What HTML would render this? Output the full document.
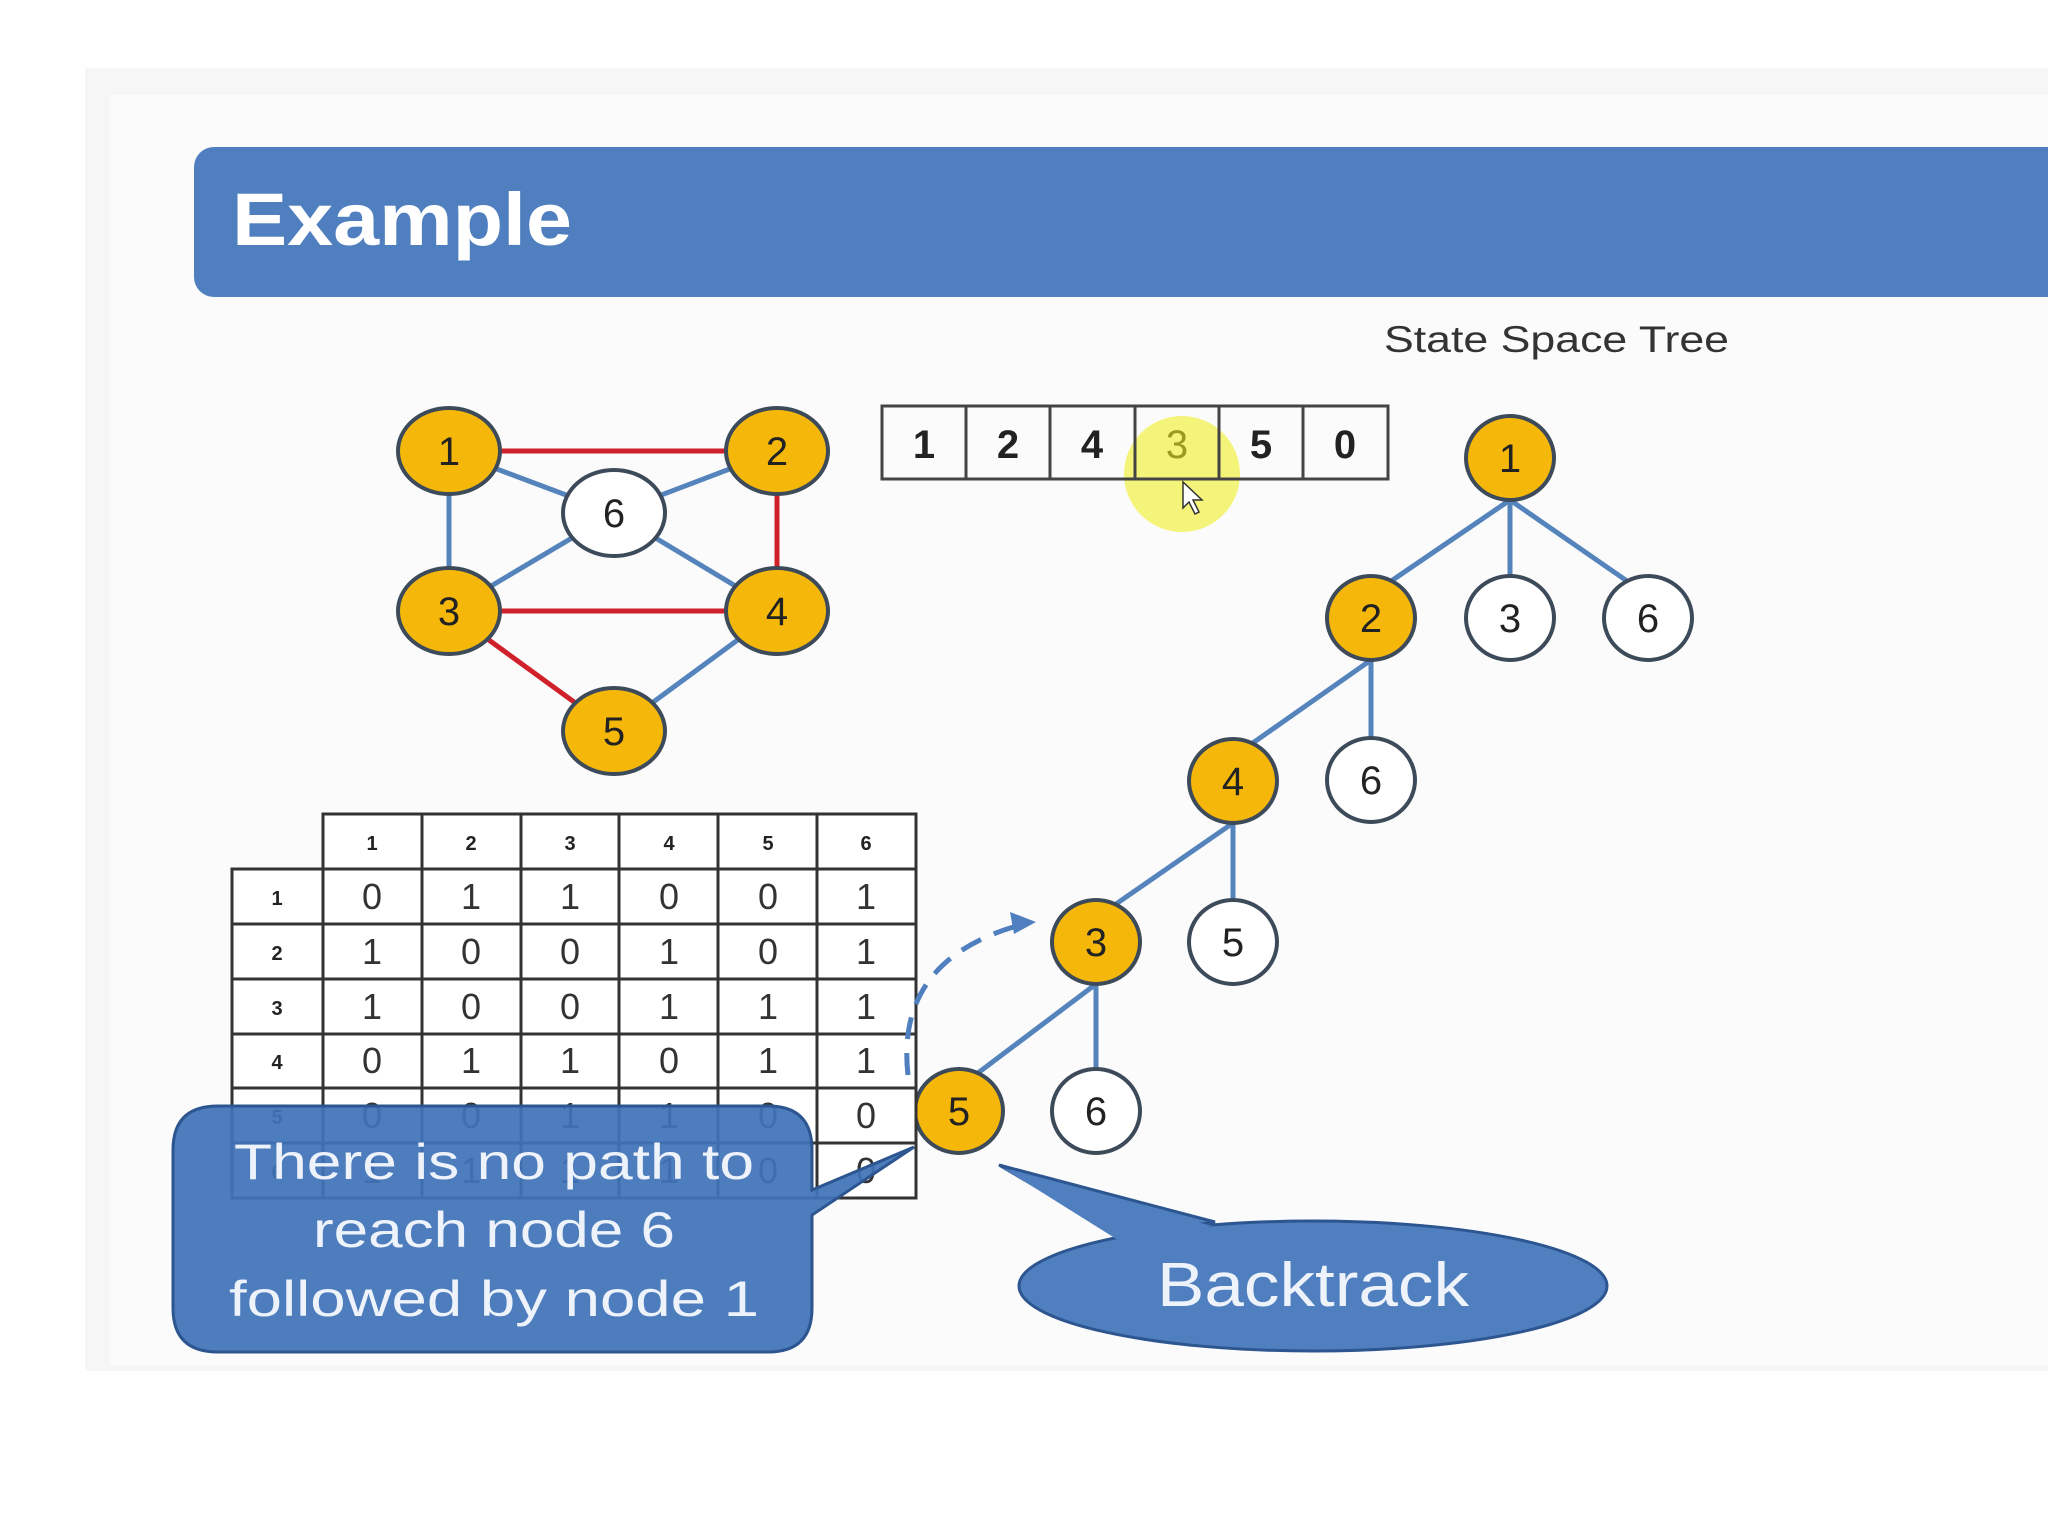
<!DOCTYPE html>
<html><head><meta charset="utf-8"><style>
html,body{margin:0;padding:0;background:#fff;}
svg{display:block;}
text{font-family:"Liberation Sans",sans-serif;}
</style></head><body>
<svg width="2048" height="1536" viewBox="0 0 2048 1536" xmlns="http://www.w3.org/2000/svg">
<rect x="85" y="68" width="1963" height="1303" fill="#f6f6f6"/>
<rect x="110" y="95" width="1938" height="1270" fill="#fbfbfb"/>
<rect x="194" y="147" width="1900" height="150" rx="20" fill="#4f7fbf"/>
<text x="232" y="245" font-size="74" font-weight="bold" fill="#fff" textLength="340" lengthAdjust="spacingAndGlyphs">Example</text>
<text x="1384" y="352" font-size="37" fill="#333" textLength="345" lengthAdjust="spacingAndGlyphs">State Space Tree</text>

<!-- graph edges -->
<g stroke-width="5">
<line x1="449" y1="451" x2="777" y2="451" stroke="#d0202a"/>
<line x1="777" y1="451" x2="777" y2="611" stroke="#d0202a"/>
<line x1="449" y1="611" x2="777" y2="611" stroke="#d0202a"/>
<line x1="449" y1="611" x2="614" y2="731" stroke="#d0202a"/>
<line x1="449" y1="451" x2="449" y2="611" stroke="#5584bd"/>
<line x1="449" y1="451" x2="614" y2="513" stroke="#5584bd"/>
<line x1="777" y1="451" x2="614" y2="513" stroke="#5584bd"/>
<line x1="449" y1="611" x2="614" y2="513" stroke="#5584bd"/>
<line x1="777" y1="611" x2="614" y2="513" stroke="#5584bd"/>
<line x1="777" y1="611" x2="614" y2="731" stroke="#5584bd"/>
</g>
<g stroke="#3d4a5a" stroke-width="4">
<ellipse cx="449" cy="451" rx="51" ry="43" fill="#f5b80a"/>
<ellipse cx="777" cy="451" rx="51" ry="43" fill="#f5b80a"/>
<ellipse cx="614" cy="513" rx="51" ry="43" fill="#fff"/>
<ellipse cx="449" cy="611" rx="51" ry="43" fill="#f5b80a"/>
<ellipse cx="777" cy="611" rx="51" ry="43" fill="#f5b80a"/>
<ellipse cx="614" cy="731" rx="51" ry="43" fill="#f5b80a"/>
</g>
<g font-size="40" text-anchor="middle" fill="#222">
<text x="449" y="465">1</text><text x="777" y="465">2</text><text x="614" y="527">6</text>
<text x="449" y="625">3</text><text x="777" y="625">4</text><text x="614" y="745">5</text>
</g>

<!-- array -->
<circle cx="1182" cy="474" r="58" fill="#f4f25a" opacity="0.8"/>
<g fill="none" stroke="#444" stroke-width="3">
<rect x="882" y="406" width="506" height="73"/>
<line x1="966" y1="406" x2="966" y2="479"/><line x1="1050" y1="406" x2="1050" y2="479"/>
<line x1="1135" y1="406" x2="1135" y2="479"/><line x1="1219" y1="406" x2="1219" y2="479"/>
<line x1="1303" y1="406" x2="1303" y2="479"/>
</g>
<g font-size="40" font-weight="bold" text-anchor="middle" fill="#222">
<text x="924" y="458">1</text><text x="1008" y="458">2</text><text x="1092" y="458">4</text>
<text x="1177" y="458" fill="#9a9a20" font-weight="normal">3</text><text x="1261" y="458">5</text><text x="1345" y="458">0</text>
</g>
<path d="M1183 482 l0 26 l6 -6 l6 12 l4 -2 l-6 -12 l9 0 z" fill="#fff" stroke="#333" stroke-width="1.5"/>

<!-- tree -->
<g stroke="#5584bd" stroke-width="5">
<line x1="1510" y1="500" x2="1378" y2="590"/><line x1="1510" y1="500" x2="1510" y2="618"/><line x1="1510" y1="500" x2="1640" y2="590"/>
<line x1="1371" y1="660" x2="1240" y2="752"/><line x1="1371" y1="660" x2="1371" y2="780"/>
<line x1="1233" y1="823" x2="1103" y2="913"/><line x1="1233" y1="823" x2="1233" y2="942"/>
<line x1="1096" y1="984" x2="966" y2="1082"/><line x1="1096" y1="984" x2="1096" y2="1111"/>
</g>
<g stroke="#3d4a5a" stroke-width="4">
<ellipse cx="1510" cy="458" rx="44" ry="42" fill="#f5b80a"/>
<ellipse cx="1371" cy="618" rx="44" ry="42" fill="#f5b80a"/>
<ellipse cx="1510" cy="618" rx="44" ry="42" fill="#fff"/>
<ellipse cx="1648" cy="618" rx="44" ry="42" fill="#fff"/>
<ellipse cx="1233" cy="781" rx="44" ry="42" fill="#f5b80a"/>
<ellipse cx="1371" cy="780" rx="44" ry="42" fill="#fff"/>
<ellipse cx="1096" cy="942" rx="44" ry="42" fill="#f5b80a"/>
<ellipse cx="1233" cy="942" rx="44" ry="42" fill="#fff"/>
<ellipse cx="959" cy="1111" rx="44" ry="42" fill="#f5b80a"/>
<ellipse cx="1096" cy="1111" rx="44" ry="42" fill="#fff"/>
</g>
<g font-size="40" text-anchor="middle" fill="#222">
<text x="1510" y="472">1</text><text x="1371" y="632">2</text><text x="1510" y="632">3</text><text x="1648" y="632">6</text>
<text x="1233" y="795">4</text><text x="1371" y="794">6</text><text x="1096" y="956">3</text><text x="1233" y="956">5</text>
<text x="959" y="1125">5</text><text x="1096" y="1125">6</text>
</g>

<!-- matrix -->
<g fill="#fff" stroke="#333" stroke-width="3">
<rect x="323" y="814" width="593" height="55"/>
<rect x="232" y="869" width="684" height="329"/>
</g>
<g stroke="#333" stroke-width="3">
<line x1="323" y1="814" x2="323" y2="1198"/><line x1="422" y1="814" x2="422" y2="1198"/><line x1="521" y1="814" x2="521" y2="1198"/>
<line x1="619" y1="814" x2="619" y2="1198"/><line x1="718" y1="814" x2="718" y2="1198"/><line x1="817" y1="814" x2="817" y2="1198"/>
<line x1="232" y1="924" x2="916" y2="924"/><line x1="232" y1="979" x2="916" y2="979"/><line x1="232" y1="1034" x2="916" y2="1034"/>
<line x1="232" y1="1088" x2="916" y2="1088"/><line x1="232" y1="1143" x2="916" y2="1143"/>
</g>
<g font-size="20" font-weight="bold" text-anchor="middle" fill="#222">
<text x="372" y="850">1</text><text x="471" y="850">2</text><text x="570" y="850">3</text><text x="669" y="850">4</text><text x="768" y="850">5</text><text x="866" y="850">6</text>
<text x="277" y="905">1</text><text x="277" y="960">2</text><text x="277" y="1015">3</text><text x="277" y="1069">4</text><text x="277" y="1124">5</text><text x="277" y="1179">6</text>
</g>
<g font-size="36" text-anchor="middle" fill="#333">
<text x="372" y="909">0</text><text x="471" y="909">1</text><text x="570" y="909">1</text><text x="669" y="909">0</text><text x="768" y="909">0</text><text x="866" y="909">1</text>
<text x="372" y="964">1</text><text x="471" y="964">0</text><text x="570" y="964">0</text><text x="669" y="964">1</text><text x="768" y="964">0</text><text x="866" y="964">1</text>
<text x="372" y="1019">1</text><text x="471" y="1019">0</text><text x="570" y="1019">0</text><text x="669" y="1019">1</text><text x="768" y="1019">1</text><text x="866" y="1019">1</text>
<text x="372" y="1073">0</text><text x="471" y="1073">1</text><text x="570" y="1073">1</text><text x="669" y="1073">0</text><text x="768" y="1073">1</text><text x="866" y="1073">1</text>
<text x="372" y="1128">0</text><text x="471" y="1128">0</text><text x="570" y="1128">1</text><text x="669" y="1128">1</text><text x="768" y="1128">0</text><text x="866" y="1128">0</text>
<text x="372" y="1183">1</text><text x="471" y="1183">1</text><text x="570" y="1183">1</text><text x="669" y="1183">1</text><text x="768" y="1183">0</text><text x="866" y="1183">0</text>
</g>

<!-- dashed arc -->
<path d="M908 1075 Q895 960 1020 925" fill="none" stroke="#4f7fbf" stroke-width="5" stroke-dasharray="22 14"/>
<path d="M1036 922 l-26 -10 l4 22 z" fill="#4f7fbf"/>

<!-- callout 1 -->
<path d="M218 1106 H768 Q812 1106 812 1150 V1190 L914 1147 L812 1215 V1308 Q812 1352 768 1352 H218 Q173 1352 173 1308 V1150 Q173 1106 218 1106 Z" fill="#3f73b8" fill-opacity="0.93" stroke="#2d5590" stroke-width="3"/>
<g font-size="50" text-anchor="middle" fill="#eef3fb">
<text x="494" y="1179" textLength="520" lengthAdjust="spacingAndGlyphs">There is no path to</text>
<text x="494" y="1247" textLength="362" lengthAdjust="spacingAndGlyphs">reach node 6</text>
<text x="494" y="1316" textLength="530" lengthAdjust="spacingAndGlyphs">followed by node 1</text>
</g>

<!-- callout 2 -->
<path d="M1120 1236 L999 1165 L1215 1222 Z" fill="#4f7fbf" stroke="#2d5590" stroke-width="3"/>
<ellipse cx="1313" cy="1286" rx="294" ry="65" fill="#4f7fbf" stroke="#2d5590" stroke-width="3"/>
<path d="M1118 1240 L1003 1168 L1212 1226" fill="#4f7fbf"/>
<text x="1313" y="1306" font-size="62" text-anchor="middle" fill="#eef3fb" textLength="312" lengthAdjust="spacingAndGlyphs">Backtrack</text>
</svg>
</body></html>
